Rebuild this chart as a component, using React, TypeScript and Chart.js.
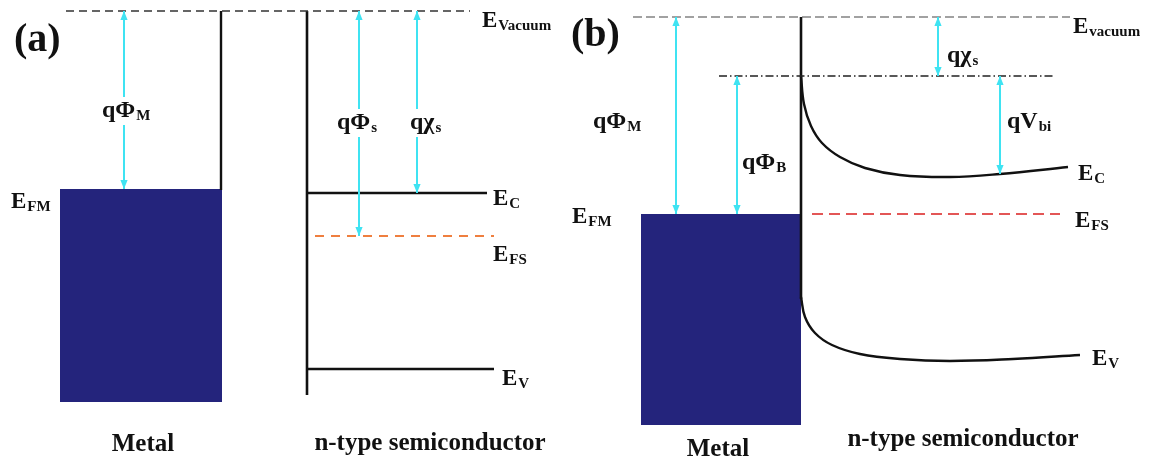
import React, { useEffect, useRef } from 'react';
import { Chart, registerables } from 'chart.js';

Chart.register(...registerables);

const W = 1154;
const H = 464;

type P = { x: number; y: number };

// ---------- panel (a): isolated metal and n-type semiconductor ----------
const vacuumA: P[] = [{ x: 66, y: 11 }, { x: 470, y: 11 }];
const metalEdgeA: P[] = [{ x: 221, y: 11 }, { x: 221, y: 190 }];
const semiEdgeA: P[] = [{ x: 307, y: 11 }, { x: 307, y: 395 }];
const ecA: P[] = [{ x: 307, y: 193 }, { x: 487, y: 193 }];
const evA: P[] = [{ x: 307, y: 369 }, { x: 494, y: 369 }];
const efsA: P[] = [{ x: 315, y: 236 }, { x: 494, y: 236 }];
const metalTopA: P[] = [{ x: 60, y: 189 }, { x: 222, y: 189 }];
const metalBottomA = 402;
const arrowsA: P[][] = [
  [{ x: 124, y: 11 }, { x: 124, y: 189 }],
  [{ x: 359, y: 11 }, { x: 359, y: 236 }],
  [{ x: 417, y: 11 }, { x: 417, y: 193 }],
];

// ---------- panel (b): metal / n-type semiconductor contact ----------
const vacuumB: P[] = [{ x: 633, y: 17 }, { x: 1070, y: 17 }];
const edgeB: P[] = [{ x: 801, y: 17 }, { x: 801, y: 299 }];
const barrierB: P[] = [{ x: 719, y: 76 }, { x: 1055, y: 76 }];
const efsB: P[] = [{ x: 812, y: 214 }, { x: 1060, y: 214 }];
const metalTopB: P[] = [{ x: 641, y: 214 }, { x: 801, y: 214 }];
const metalBottomB = 425;
const ecB: P[] = [
  { x: 801, y: 76 }, { x: 804, y: 104 }, { x: 811, y: 126 },
  { x: 822, y: 143 }, { x: 840, y: 157 }, { x: 865, y: 168 },
  { x: 900, y: 175 }, { x: 950, y: 177 }, { x: 1000, y: 174 },
  { x: 1068, y: 167 },
];
const evB: P[] = [
  { x: 801, y: 297 }, { x: 805, y: 317 }, { x: 815, y: 333 },
  { x: 832, y: 345 }, { x: 860, y: 354 }, { x: 900, y: 359 },
  { x: 950, y: 361 }, { x: 1013, y: 359 }, { x: 1080, y: 355 },
];
const arrowsB: P[][] = [
  [{ x: 676, y: 17 }, { x: 676, y: 214 }],
  [{ x: 737, y: 76 }, { x: 737, y: 214 }],
  [{ x: 938, y: 17 }, { x: 938, y: 76 }],
  [{ x: 1000, y: 76 }, { x: 1000, y: 174 }],
];

// ---------- text labels ----------
type Label = { main: string; sub?: string; x: number; y: number; kind: 'panel' | 'E' | 'q' | 'cap' };
const labels: Label[] = [
  { main: '(a)', x: 14, y: 51, kind: 'panel' },
  { main: '(b)', x: 571, y: 46, kind: 'panel' },
  { main: 'q\u03A6', sub: 'M', x: 102, y: 117, kind: 'q' },
  { main: 'q\u03A6', sub: 's', x: 337, y: 129, kind: 'q' },
  { main: 'q\u03C7', sub: 's', x: 410, y: 129, kind: 'q' },
  { main: 'E', sub: 'Vacuum', x: 482, y: 27, kind: 'E' },
  { main: 'E', sub: 'C', x: 493, y: 205, kind: 'E' },
  { main: 'E', sub: 'FS', x: 493, y: 261, kind: 'E' },
  { main: 'E', sub: 'V', x: 502, y: 385, kind: 'E' },
  { main: 'E', sub: 'FM', x: 11, y: 208, kind: 'E' },
  { main: 'Metal', x: 143, y: 451, kind: 'cap' },
  { main: 'n-type semiconductor', x: 430, y: 450, kind: 'cap' },
  { main: 'q\u03A6', sub: 'M', x: 593, y: 128, kind: 'q' },
  { main: 'q\u03A6', sub: 'B', x: 742, y: 169, kind: 'q' },
  { main: 'E', sub: 'FM', x: 572, y: 223, kind: 'E' },
  { main: 'E', sub: 'vacuum', x: 1073, y: 33, kind: 'E' },
  { main: 'q\u03C7', sub: 's', x: 947, y: 62, kind: 'q' },
  { main: 'qV', sub: 'bi', x: 1007, y: 128, kind: 'q' },
  { main: 'E', sub: 'C', x: 1078, y: 180, kind: 'E' },
  { main: 'E', sub: 'FS', x: 1075, y: 227, kind: 'E' },
  { main: 'E', sub: 'V', x: 1092, y: 365, kind: 'E' },
  { main: 'Metal', x: 718, y: 456, kind: 'cap' },
  { main: 'n-type semiconductor', x: 963, y: 446, kind: 'cap' },
];

const FONT = '"Liberation Serif", "Times New Roman", serif';
const CYAN = '#3fe3f2';
const NAVY = '#24247c';
const BLACK = '#111111';

const arrowHeads = {
  id: 'arrowHeads',
  afterDatasetsDraw(chart: any) {
    const ctx = chart.ctx;
    chart.data.datasets.forEach((ds: any, i: number) => {
      if (!ds.isArrow) return;
      const pts = chart.getDatasetMeta(i).data;
      if (pts.length < 2) return;
      const a = pts[0];
      const b = pts[pts.length - 1];
      const head = (tip: any, from: any) => {
        const ang = Math.atan2(tip.y - from.y, tip.x - from.x);
        const len = 9;
        const hw = 3.6;
        ctx.beginPath();
        ctx.moveTo(tip.x, tip.y);
        ctx.lineTo(tip.x - len * Math.cos(ang) + hw * Math.sin(ang), tip.y - len * Math.sin(ang) - hw * Math.cos(ang));
        ctx.lineTo(tip.x - len * Math.cos(ang) - hw * Math.sin(ang), tip.y - len * Math.sin(ang) + hw * Math.cos(ang));
        ctx.closePath();
        ctx.fillStyle = ds.borderColor;
        ctx.fill();
      };
      ctx.save();
      head(a, b);
      head(b, a);
      ctx.restore();
    });
  },
};

const textLabels = {
  id: 'textLabels',
  afterDraw(chart: any) {
    const ctx = chart.ctx;
    const xs = chart.scales.x;
    const ys = chart.scales.y;
    ctx.save();
    ctx.textBaseline = 'alphabetic';
    labels.forEach((l) => {
      const px = xs.getPixelForValue(l.x);
      const py = ys.getPixelForValue(l.y);
      let mainSize = 23;
      let subSize = 15;
      if (l.kind === 'panel') mainSize = 40;
      if (l.kind === 'cap') mainSize = 25;
      if (l.kind === 'q') { mainSize = 24; subSize = 15; }
      ctx.font = `bold ${mainSize}px ${FONT}`;
      const mw = ctx.measureText(l.main).width;
      ctx.font = `bold ${subSize}px ${FONT}`;
      const sw = l.sub ? ctx.measureText(l.sub).width : 0;
      let x0 = px;
      if (l.kind === 'cap') x0 = px - mw / 2;
      if (l.kind === 'q') {
        ctx.fillStyle = '#ffffff';
        ctx.fillRect(x0 - 3, py - 20, mw + sw + 6, 28);
      }
      ctx.fillStyle = BLACK;
      ctx.textAlign = 'left';
      ctx.font = `bold ${mainSize}px ${FONT}`;
      ctx.fillText(l.main, x0, py);
      if (l.sub) {
        ctx.font = `bold ${subSize}px ${FONT}`;
        ctx.fillText(l.sub, x0 + mw + 1, py + 3);
      }
    });
    ctx.restore();
  },
};

function line(data: P[], color: string, width: number, dash: number[] = [], extra: any = {}) {
  return {
    data,
    showLine: true,
    borderColor: color,
    backgroundColor: color,
    borderWidth: width,
    borderDash: dash,
    pointRadius: 0,
    fill: false,
    order: 1,
    ...extra,
  };
}

export default function App() {
  const ref = useRef<HTMLCanvasElement | null>(null);
  useEffect(() => {
    document.body.style.margin = '0';
    const canvas = ref.current;
    if (!canvas) return;
    const datasets: any[] = [
      line(metalTopA, NAVY, 0, [], { fill: { value: metalBottomA }, backgroundColor: NAVY, order: 10 }),
      line(metalTopB, NAVY, 0, [], { fill: { value: metalBottomB }, backgroundColor: NAVY, order: 10 }),
      line(vacuumA, '#333333', 1.4, [8, 5]),
      line(vacuumB, '#444444', 1.2, [9, 4]),
      line(barrierB, '#222222', 1.3, [8, 3, 1.5, 3]),
      line(efsA, '#ef7f3f', 2.2, [9, 7]),
      line(efsB, '#e35656', 2.2, [11, 6]),
      line(metalEdgeA, BLACK, 2.4),
      line(semiEdgeA, BLACK, 2.6),
      line(ecA, BLACK, 2.4),
      line(evA, BLACK, 2.4),
      line(edgeB, BLACK, 2.6),
      line(ecB, BLACK, 2.4, [], { tension: 0.4 }),
      line(evB, BLACK, 2.4, [], { tension: 0.4 }),
      ...arrowsA.map((a) => line(a, CYAN, 2, [], { isArrow: true, order: 0 })),
      ...arrowsB.map((a) => line(a, CYAN, 2, [], { isArrow: true, order: 0 })),
    ];
    const chart = new Chart(canvas, {
      type: 'scatter',
      data: { datasets },
      options: {
        animation: false,
        responsive: false,
        maintainAspectRatio: false,
        layout: { padding: 0 },
        plugins: { legend: { display: false }, tooltip: { enabled: false } },
        scales: {
          x: { type: 'linear', min: 0, max: W, display: false },
          y: { type: 'linear', min: 0, max: H, reverse: true, display: false },
        },
        events: [],
      },
      plugins: [arrowHeads, textLabels],
    } as any);
    return () => chart.destroy();
  }, []);
  return (
    <div style={{ width: W, height: H, background: '#ffffff' }}>
      <canvas ref={ref} width={W} height={H} style={{ display: 'block', width: W, height: H }} />
    </div>
  );
}
